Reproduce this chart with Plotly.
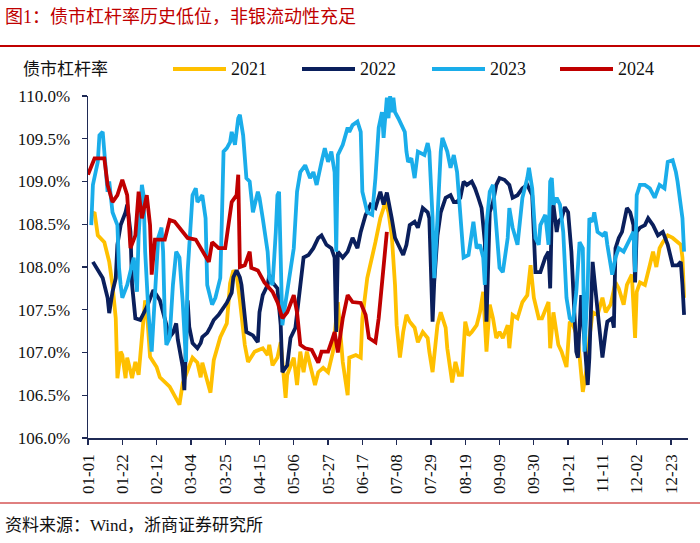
import plotly.graph_objects as go
import pandas as pd

# ---------------- data ----------------
BASE = "2024-01-01"
tick_labels = ["01-01", "01-22", "02-12", "03-04", "03-25", "04-15", "05-06", "05-27",
               "06-17", "07-08", "07-29", "08-19", "09-09", "09-30", "10-21", "11-11",
               "12-02", "12-23"]
y_ticks = [106.0, 106.5, 107.0, 107.5, 108.0, 108.5, 109.0, 109.5, 110.0]
series_names = ["2021", "2022", "2023", "2024"]

# day-of-year offsets (from 01-01) and leverage ratio (%)
days_2021 = [2,4,6,10,13,15,17,18,20,21,23,24,27,29,31,33,35,36,38,42,44,50,56,58,61,64,67,69,70,73,
             75,77,81,85,87,89,91,93,96,98,102,107,110,111,113,116,118,121,122,126,128,130,132,134,136,
             139,141,144,147,150,153,156,159,160,164,167,168,171,176,179,181,182,184,186,188,189,191,193,
             195,197,200,202,205,208,209,211,214,216,219,220,223,225,227,229,231,233,235,238,240,242,244,
             246,248,250,252,254,257,258,260,263,266,269,271,273,276,278,282,283,285,288,290,293,295,297,
             300,303,306,307,309,312,315,317,320,323,325,328,330,333,335,336,338,341,344,346,348,350,352,
             355,358,363,364,365]
vals_2021 = [108.61,108.64,108.37,108.29,108.06,107.79,107.40,106.70,107.01,106.97,
             106.70,106.94,106.70,106.89,106.74,107.17,107.61,107.50,106.95,106.83,
             106.71,106.60,106.39,106.64,106.80,106.94,106.88,106.71,106.88,106.68,
             106.53,106.91,107.18,107.34,107.81,107.96,107.91,107.61,107.09,106.89,
             107.01,107.05,106.97,107.09,106.85,106.94,107.12,106.47,106.74,106.94,
             106.62,107.01,106.77,107.01,106.85,106.62,106.77,106.82,106.77,107.01,
             107.59,106.89,106.50,106.94,106.97,106.94,107.40,107.87,108.29,108.57,
             108.69,108.78,108.64,108.37,107.79,107.32,106.94,107.24,107.44,107.36,
             107.29,107.12,107.24,107.17,107.01,106.77,107.32,107.47,107.29,107.05,
             106.65,106.89,106.74,106.74,107.36,107.20,107.24,107.32,107.47,107.71,
             107.01,107.56,107.40,107.17,107.24,107.17,107.32,107.05,107.44,107.40,
             107.59,107.67,108.02,107.64,107.40,107.40,107.59,107.05,107.47,107.09,
             107.01,106.83,107.36,107.32,107.17,106.54,106.89,107.17,107.47,107.44,
             107.64,107.47,107.56,107.82,107.75,107.56,107.79,107.91,107.17,107.71,
             107.82,107.79,108.02,108.18,108.00,108.22,108.29,108.37,108.34,108.26,
             108.11,107.64]

days_2022 = [3,6,7,9,12,13,15,17,18,20,23,24,26,27,29,32,36,40,44,48,50,52,54,55,58,59,61,62,64,67,
             69,70,73,75,77,80,83,85,88,89,91,93,94,97,101,104,105,107,110,111,113,116,118,119,122,124,
             127,130,132,135,138,141,143,146,149,151,152,153,156,159,162,165,167,170,173,176,179,181,183,
             186,188,190,193,195,197,200,202,205,208,209,211,212,214,216,219,222,224,226,228,230,232,235,
             237,239,241,243,244,246,248,250,252,255,258,260,263,266,269,272,274,277,280,282,283,284,285,
             287,288,290,292,294,296,298,299,300,302,303,306,307,309,310,312,315,317,318,321,322,323,325,
             327,330,332,334,335,336,338,341,343,346,349,352,355,358,361,363,364,365]
vals_2022 = [108.06,107.96,107.94,107.87,107.64,107.46,107.71,107.87,108.26,108.49,
             108.64,108.73,108.41,107.79,107.40,107.38,107.53,107.73,107.61,107.34,
             107.18,107.23,107.34,107.15,106.83,106.56,107.61,107.30,107.11,107.05,
             107.11,107.18,107.23,107.30,107.38,107.44,107.53,107.58,107.70,107.88,
             107.96,107.88,107.79,107.24,107.20,107.12,107.47,107.67,107.79,107.91,
             107.82,107.75,107.32,106.77,106.85,107.17,107.29,107.79,108.11,108.14,
             108.22,108.34,108.37,108.26,108.22,108.11,107.24,108.18,108.11,108.18,
             108.34,108.22,108.41,108.61,108.73,108.69,108.88,108.73,108.87,108.57,
             108.34,108.26,108.14,108.26,108.49,108.53,108.46,108.69,108.64,108.57,
             107.36,107.82,108.37,108.64,108.81,108.84,108.76,108.76,108.81,109.00,
             108.96,109.00,108.92,108.81,108.69,108.29,107.36,108.64,108.76,108.96,
             109.04,109.02,108.96,108.81,108.84,108.92,108.96,108.84,107.94,107.94,
             108.11,108.18,107.75,108.64,108.73,108.41,108.53,108.57,108.70,108.64,
             108.18,107.40,107.01,106.94,107.67,107.40,106.62,106.94,108.06,107.87,
             107.47,106.94,107.24,107.36,107.40,107.29,108.22,108.34,108.41,108.69,
             108.64,108.49,107.82,108.41,108.46,108.49,108.57,108.49,108.37,108.41,
             108.26,108.02,108.02,108.06,107.79,107.44]

days_2023 = [2,3,6,7,9,10,11,12,13,15,18,19,20,21,24,26,28,30,31,33,34,35,37,39,41,43,45,46,47,48,
             50,52,54,56,58,59,60,61,64,66,67,70,72,73,76,78,81,82,83,85,87,88,90,92,93,95,97,99,101,104,
             105,107,110,111,113,115,116,117,118,119,121,122,126,128,130,133,136,138,140,143,145,147,149,
             151,152,153,156,159,160,162,165,167,168,171,174,176,178,180,181,183,184,185,186,187,188,190,
             192,194,195,196,198,200,202,205,206,208,209,211,212,214,216,217,220,222,224,226,228,230,233,
             235,236,238,240,242,243,244,246,248,250,252,254,257,258,260,263,265,266,269,270,272,274,276,
             277,280,282,283,284,285,287,289,291,293,295,297,299,301,303,304,306,307,309,310,312,315,317,
             318,321,323,325,328,331,334,335,336,338,341,344,347,350,353,355,358,360,361,364,365]
vals_2023 = [108.49,108.96,109.23,109.54,109.58,109.35,109.00,108.88,109.00,108.64,
             108.49,107.99,107.79,107.64,107.79,107.94,108.11,107.71,108.37,108.96,
             108.84,108.18,107.47,107.01,107.64,108.34,108.46,108.18,107.40,107.09,
             107.17,107.79,108.18,108.11,107.59,107.17,106.89,107.94,108.84,108.92,
             108.76,108.84,108.57,107.79,107.56,107.64,107.87,108.57,109.35,109.39,
             109.46,109.58,109.43,109.74,109.78,109.54,109.04,109.00,108.64,108.88,
             108.81,108.57,108.18,107.87,107.79,108.41,108.84,108.88,108.26,107.32,
             107.59,107.71,108.22,108.88,109.11,109.19,109.04,109.11,108.96,109.23,
             109.39,109.23,109.35,109.11,108.18,109.31,109.43,109.63,109.58,109.66,
             109.70,109.58,108.88,108.64,108.61,109.04,109.63,109.81,109.51,109.98,
             109.74,110.00,109.81,109.98,109.81,109.74,109.66,109.58,109.35,109.23,
             109.27,109.04,109.35,109.31,109.31,109.45,109.35,108.57,107.87,108.57,
             109.35,109.51,109.35,109.16,109.31,109.11,108.57,108.11,108.14,108.37,
             108.53,108.22,108.26,108.11,107.79,108.49,108.88,108.96,108.46,107.99,
             107.94,108.34,108.69,108.46,108.26,108.64,108.81,109.04,109.16,108.92,
             108.34,108.26,108.49,108.61,108.26,109.00,109.04,108.73,108.81,108.73,
             108.41,107.64,107.40,107.36,107.71,108.29,108.22,107.01,107.79,108.57,
             108.53,108.64,108.41,108.37,108.41,108.26,107.91,108.11,108.22,108.18,
             108.29,108.41,107.94,108.84,108.96,108.96,108.92,108.81,108.96,108.92,
             109.23,109.25,109.11,109.00,108.57,108.18]

days_2024 = [0,4,10,12,15,18,21,24,26,29,31,33,36,38,39,41,47,50,53,58,61,66,70,74,76,80,84,88,91,92,
             93,96,99,100,104,108,113,116,119,122,126,128,130,133,137,141,143,147,149,151,153,156,159,162,
             167,170,172,176,178,180,182,183]
vals_2024 = [109.08,109.27,109.27,108.96,108.76,108.84,109.02,108.84,108.22,108.37,
             108.88,108.57,108.84,108.49,107.91,108.32,108.32,108.55,108.53,108.41,
             108.34,108.32,108.18,108.06,108.29,108.22,108.22,108.76,108.84,109.08,
             108.00,108.02,108.18,107.99,107.96,107.82,107.71,107.59,107.40,107.47,
             107.67,107.47,107.09,107.05,107.03,106.88,107.01,107.01,107.12,107.24,
             107.00,107.40,107.67,107.59,107.58,107.44,107.17,107.12,107.40,107.79,
             108.11,108.41]

series_days = [days_2021, days_2022, days_2023, days_2024]
series_vals = [vals_2021, vals_2022, vals_2023, vals_2024]
for d, v in zip(series_days, series_vals):
    assert len(d) == len(v), (len(d), len(v))

# ---------------- style ----------------
colors = ["#FFC000", "#0A1F5C", "#1AADEA", "#C00000"]
FONT = "Liberation Serif, Noto Sans CJK SC, serif"
AXIS = "#1F2A55"
W, H = 700, 543
L, R, T, B = 88, 12, 96, 105
PW, PH = W - L - R, H - T - B


def px2x(px):
    return (px - L) / PW


def py2y(py):
    return (H - B - py) / PH


base = pd.Timestamp(BASE)
fig = go.Figure()
for name, d, v, c in zip(series_names, series_days, series_vals, colors):
    fig.add_trace(go.Scatter(
        x=base + pd.to_timedelta(d, unit="D"), y=v, mode="lines", name=name,
        line=dict(color=c, width=3.8), showlegend=False))

tickvals = [pd.Timestamp(BASE[:5] + t) for t in tick_labels]

fig.update_layout(
    width=W, height=H, margin=dict(l=L, r=R, t=T, b=B),
    paper_bgcolor="white", plot_bgcolor="white",
    font=dict(family=FONT, size=17, color="#111111"),
    xaxis=dict(
        type="date",
        range=[base, base + pd.Timedelta(days=367.4)],
        tickvals=tickvals, ticktext=tick_labels, tickangle=-90,
        showgrid=False, zeroline=False,
        showline=True, linecolor=AXIS, linewidth=1.5,
        ticks="outside", ticklen=5, tickwidth=1.3, tickcolor=AXIS,
        tickfont=dict(family=FONT, size=17, color="#111111"),
        ticklabelstandoff=3,
    ),
    yaxis=dict(
        range=[106, 110], tickvals=y_ticks,
        ticktext=[f"{t:.1f}%" for t in y_ticks],
        showgrid=False, zeroline=False,
        showline=True, linecolor=AXIS, linewidth=1.5,
        ticks="outside", ticklen=5, tickwidth=1.3, tickcolor=AXIS,
        tickfont=dict(family=FONT, size=17, color="#111111"),
        ticklabelstandoff=8,
    ),
)

shapes = []
annotations = []
# title and rules
annotations.append(dict(xref="paper", yref="paper", x=px2x(3), y=py2y(17), xanchor="left",
                        yanchor="middle", showarrow=False,
                        text="图1：债市杠杆率历史低位，非银流动性充足",
                        font=dict(family=FONT, size=18, color="#C00000")))
shapes.append(dict(type="line", xref="paper", yref="paper", x0=px2x(0), x1=px2x(700),
                   y0=py2y(46), y1=py2y(46), line=dict(color="#C00000", width=2)))
shapes.append(dict(type="line", xref="paper", yref="paper", x0=px2x(0), x1=px2x(700),
                   y0=py2y(503), y1=py2y(503), line=dict(color="#C00000", width=1)))
annotations.append(dict(xref="paper", yref="paper", x=px2x(3), y=py2y(525), xanchor="left",
                        yanchor="middle", showarrow=False,
                        text="资料来源：Wind，浙商证券研究所",
                        font=dict(family=FONT, size=17, color="#111111")))
annotations.append(dict(xref="paper", yref="paper", x=px2x(21), y=py2y(69), xanchor="left",
                        yanchor="middle", showarrow=False, text="债市杠杆率",
                        font=dict(family=FONT, size=17, color="#111111")))

# legend
leg_x = [173, 302, 432, 560]
for name, c, lx in zip(series_names, colors, leg_x):
    shapes.append(dict(type="line", xref="paper", yref="paper", x0=px2x(lx), x1=px2x(lx + 53),
                       y0=py2y(69), y1=py2y(69), line=dict(color=c, width=3.8)))
    annotations.append(dict(xref="paper", yref="paper", x=px2x(lx + 56), y=py2y(69),
                            xanchor="left", yanchor="middle", showarrow=False, text=name,
                            font=dict(family=FONT, size=18, color="#111111")))

fig.update_layout(shapes=shapes, annotations=annotations)
fig.write_html("out.html",
               config={"displayModeBar": False, "staticPlot": True},
               post_script="document.body.style.margin='0';document.body.style.overflow='hidden';")
